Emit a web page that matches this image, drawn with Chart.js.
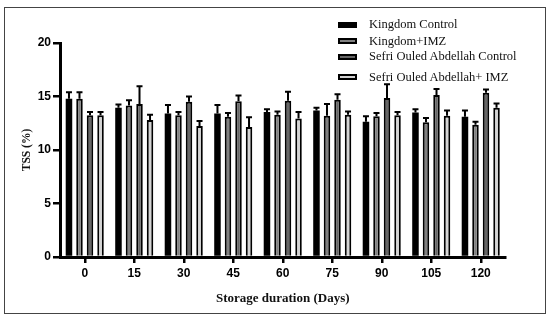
<!DOCTYPE html>
<html>
<head>
<meta charset="utf-8">
<script src="https://cdn.jsdelivr.net/npm/chart.js@4"></script>
<style>
  body { margin: 0; background: #fff; }
  #wrap { position: relative; width: 550px; height: 320px; }
  #frame { position: absolute; left: 4px; top: 7px; width: 540px; height: 305px; border: 1.5px solid #444; }
  #legend { position: absolute; left: 338px; top: 0; font: 12.5px "Liberation Serif", "Times New Roman", serif; color: #111; }
  .row { position: absolute; left: 0; white-space: nowrap; display: flex; align-items: center; height: 14px; }
  .box { display: inline-block; width: 15px; height: 2px; border: 2px solid #000; margin-right: 12px; }
</style>
</head>
<body>
<div id="wrap">
  <canvas id="tss" width="550" height="320"></canvas>
  <div id="frame"></div>
  <div id="legend"></div>
</div>
<script>
  const days = ["0", "15", "30", "45", "60", "75", "90", "105", "120"];
  const yTicks = [0, 5, 10, 15, 20];

  const seriesNames = ["Kingdom Control", "Kingdom+IMZ", "Sefri Ouled Abdellah Control", "Sefri Ouled Abdellah+ IMZ"];
  const kingdomCtrl = [14.8, 13.95, 13.4, 13.4, 13.55, 13.7, 12.65, 13.5, 13.1];
  const kingdomImz = [14.8, 14.15, 13.25, 13.1, 13.3, 13.2, 13.15, 12.6, 12.35];
  const sefriCtrl = [13.25, 14.3, 14.5, 14.55, 14.6, 14.7, 14.85, 15.15, 15.35];
  const sefriImz = [13.25, 12.8, 12.25, 12.15, 12.95, 13.3, 13.25, 13.2, 13.95];

  const kingdomCtrlErr = [0.6, 0.3, 0.8, 0.8, 0.25, 0.25, 0.5, 0.3, 0.6];
  const kingdomImzErr = [0.6, 0.5, 0.3, 0.35, 0.3, 1.1, 0.3, 0.4, 0.3];
  const sefriCtrlErr = [0.3, 1.65, 0.5, 0.55, 0.85, 0.5, 1.3, 0.55, 0.3];
  const sefriImzErr = [0.3, 0.5, 0.45, 0.9, 0.6, 0.3, 0.3, 0.5, 0.4];

  const fills = ["#000000", "#808080", "#666666", "#d4d4d4"];
  const values = [kingdomCtrl, kingdomImz, sefriCtrl, sefriImz];
  const errors = [kingdomCtrlErr, kingdomImzErr, sefriCtrlErr, sefriImzErr];

  // legend rows (html, top right of the plot)
  const rowY = [24.5, 41, 56.5, 77];
  const legend = document.getElementById("legend");
  seriesNames.forEach((name, i) => {
    const row = document.createElement("div");
    row.className = "row";
    row.style.top = (rowY[i] - 7) + "px";
    const box = document.createElement("span");
    box.className = "box";
    box.style.background = fills[i];
    row.appendChild(box);
    row.appendChild(document.createTextNode(name));
    legend.appendChild(row);
  });

  // upward error bars with a cap
  const errorBars = {
    id: "errorBars",
    afterDatasetsDraw(chart) {
      const ctx = chart.ctx;
      const y = chart.scales.y;
      ctx.save();
      ctx.strokeStyle = "#000";
      ctx.lineWidth = 2;
      chart.data.datasets.forEach((ds, i) => {
        const meta = chart.getDatasetMeta(i);
        meta.data.forEach((bar, j) => {
          const top = y.getPixelForValue(ds.data[j] + ds.err[j]);
          ctx.beginPath();
          ctx.moveTo(bar.x, bar.y);
          ctx.lineTo(bar.x, top);
          ctx.moveTo(bar.x - 3, top);
          ctx.lineTo(bar.x + 3, top);
          ctx.stroke();
        });
      });
      ctx.restore();
    }
  };

  const tickFont = { family: "'Liberation Sans', Arial, sans-serif", size: 12, weight: "bold" };

  new Chart(document.getElementById("tss"), {
    type: "bar",
    data: {
      labels: days,
      datasets: values.map((v, i) => ({
        label: seriesNames[i],
        data: v,
        err: errors[i],
        backgroundColor: fills[i],
        borderColor: "#000",
        borderWidth: i === 0 ? 0 : 2,
        categoryPercentage: 0.85,
        barPercentage: 0.62
      }))
    },
    options: {
      responsive: false,
      animation: false,
      layout: { padding: { top: 43, right: 44.5, left: 0, bottom: 0 } },
      plugins: { legend: { display: false }, tooltip: { enabled: false } },
      scales: {
        x: {
          offset: true,
          grid: { display: true, drawOnChartArea: false, offset: false, tickLength: 6, lineWidth: 2.5, color: "#000" },
          border: { display: true, width: 3, color: "#000", z: 1 },
          ticks: { color: "#000", font: tickFont, padding: 3, maxRotation: 0 },
          title: {
            display: true,
            text: "Storage duration (Days)",
            color: "#111",
            font: { family: "'Liberation Serif', 'Times New Roman', serif", size: 13, weight: "bold" },
            padding: { top: 0, bottom: 14 }
          },
          afterFit: s => { s.height = 63; }
        },
        y: {
          min: 0,
          max: 20,
          afterBuildTicks: s => { s.ticks = yTicks.map(v => ({ value: v })); },
          grid: { display: true, drawOnChartArea: false, tickLength: 7, lineWidth: 2.5, color: "#000" },
          border: { display: true, width: 3, color: "#000" },
          ticks: { color: "#000", font: tickFont, padding: 2 },
          title: {
            display: true,
            text: "TSS (%)",
            color: "#111",
            font: { family: "'Liberation Serif', 'Times New Roman', serif", size: 11.5, weight: "bold" },
            padding: { top: 20, bottom: 0 }
          },
          afterFit: s => { s.width = 60; }
        }
      }
    },
    plugins: [errorBars]
  });
</script>
</body>
</html>
